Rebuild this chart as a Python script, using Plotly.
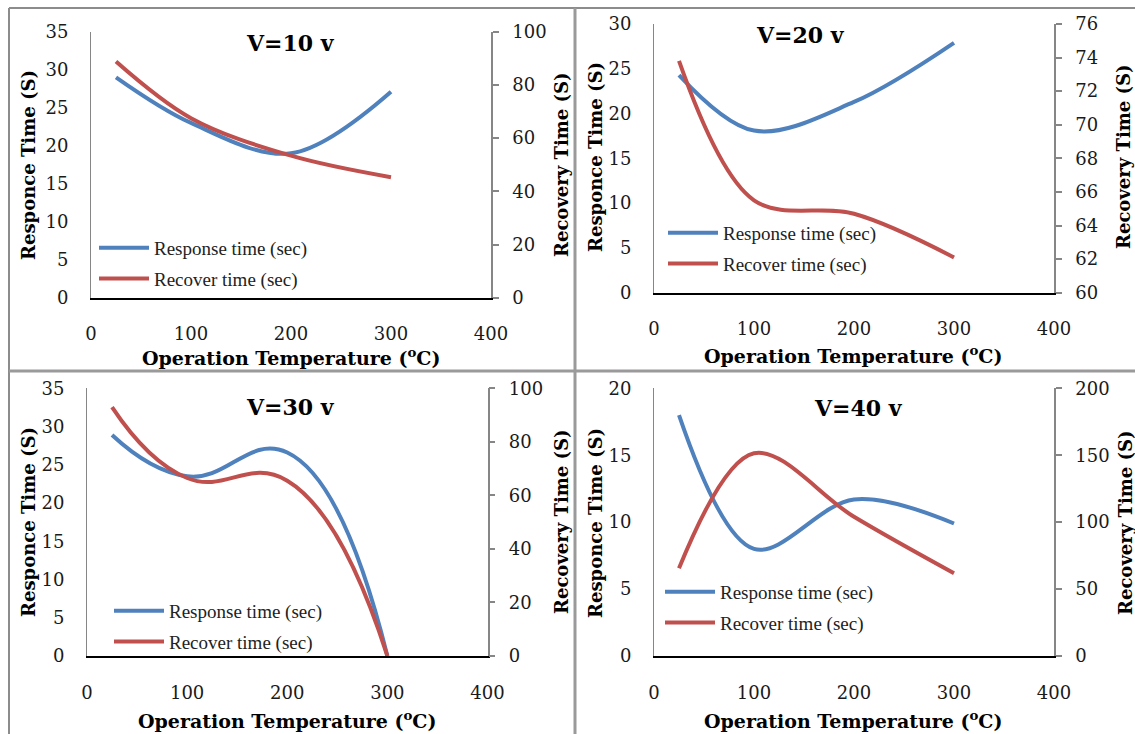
import plotly.graph_objects as go

W, H = 1135, 734

# ---------------- data ----------------
temps = [25, 100, 200, 300]

resp_10 = [29.0, 23.0, 19.0, 27.1]
recov_10 = [88.8, 67.5, 53.4, 45.3]

resp_20 = [24.3, 18.1, 21.3, 27.9]
recov_20 = [73.8, 65.5, 64.7, 62.1]

resp_30 = [28.9, 23.5, 26.6, 0.0]
recov_30 = [93.0, 66.5, 65.5, 0.0]

resp_40 = [18.0, 8.0, 11.7, 9.9]
recov_40 = [65.5, 151.5, 104.0, 61.8]

titles = ["V=10 v", "V=20 v", "V=30 v", "V=40 v"]
left_ranges = [[0, 35], [0, 30], [0, 35], [0, 20]]
left_dticks = [5, 5, 5, 5]
right_ranges = [[0, 100], [60, 76], [0, 100], [0, 200]]
right_dticks = [20, 2, 20, 50]
x_ticks = [0, 100, 200, 300, 400]
smooth = [1.0, 1.0, 1.3, 1.0]

resp_name = "Response time (sec)"
recov_name = "Recover time (sec)"
x_title = "Operation Temperature (<sup>o</sup>C)"
yl_title = "Responce Time (S)"
yr_title = "Recovery Time (S)"

BLUE = "#4F81BD"
RED = "#C0504D"

def px(x):
    return x / W

def py(y):
    return 1 - y / H

areas = [
    (91, 491, 31.7, 297.7),
    (654, 1054, 24, 292.7),
    (87, 487.5, 388.3, 656),
    (654, 1054, 388.3, 656),
]
legend_pos = [(94, 229), (663, 214), (109, 592), (660, 573)]
title_pos = [(290, 43), (800, 35), (290, 407), (858, 408)]
xtitle_pos = [(291, 357), (853, 355), (287, 720), (853, 720)]
yl_pos = [(28, 165), (595, 157), (28, 522), (595, 523)]
yr_pos = [(561, 165), (1123, 157), (561, 522), (1125, 523)]

resp_all = [resp_10, resp_20, resp_30, resp_40]
recov_all = [recov_10, recov_20, recov_30, recov_40]

TICK_FONT = dict(family="DejaVu Serif", size=18, color="#1a1a1a")
YT_FONT = dict(family="DejaVu Serif", size=18, color="#000000")
XT_FONT = dict(family="DejaVu Serif", size=19, color="#000000")

fig = go.Figure()
layout = dict(
    width=W, height=H,
    margin=dict(l=0, r=0, t=0, b=0, pad=0, autoexpand=False),
    paper_bgcolor="white", plot_bgcolor="rgba(0,0,0,0)",
    showlegend=True,
)
annotations = []

for i in range(4):
    n = i + 1
    xa = "x" if n == 1 else f"x{n}"
    yl = "y" if n == 1 else f"y{n}"
    yr = f"y{n + 4}"
    leg = "legend" if n == 1 else f"legend{n}"
    x0, x1, yt, yb = areas[i]

    fig.add_trace(go.Scatter(
        x=temps, y=resp_all[i], name=resp_name, mode="lines",
        line=dict(color=BLUE, width=4, shape="spline", smoothing=smooth[i]),
        xaxis=xa, yaxis=yl, legend=leg, legendgroup=f"r{n}",
        cliponaxis=False,
    ))
    fig.add_trace(go.Scatter(
        x=temps, y=recov_all[i], name=recov_name, mode="lines",
        line=dict(color=RED, width=4, shape="spline", smoothing=smooth[i]),
        xaxis=xa, yaxis=yr, legend=leg, legendgroup=f"c{n}",
        cliponaxis=False,
    ))

    layout[f"xaxis{'' if n == 1 else n}"] = dict(
        domain=[px(x0), px(x1)], anchor=yl, range=[0, 400],
        tickvals=x_ticks, showgrid=False, zeroline=False, automargin=False,
        showline=True, linecolor="#000000", linewidth=2,
        ticks="", ticklabelstandoff=19, tickfont=TICK_FONT,
    )
    layout[f"yaxis{'' if n == 1 else n}"] = dict(
        domain=[py(yb), py(yt)], anchor=xa, range=left_ranges[i],
        dtick=left_dticks[i], showgrid=False, zeroline=False, automargin=False,
        showline=True, linecolor="#868686", linewidth=1,
        ticks="", ticklabelstandoff=18, tickfont=TICK_FONT,
    )
    layout[f"yaxis{n + 4}"] = dict(
        overlaying=yl, anchor=xa, side="right", range=right_ranges[i],
        dtick=right_dticks[i], showgrid=False, zeroline=False, automargin=False,
        showline=True, linecolor="#868686", linewidth=1.5,
        ticks="outside", ticklen=6, tickcolor="#868686", tickwidth=1.5,
        ticklabelstandoff=10, tickfont=TICK_FONT,
    )
    lx, ly = legend_pos[i]
    layout[leg] = dict(
        x=px(lx), y=py(ly), xanchor="left", yanchor="top",
        bgcolor="rgba(0,0,0,0)", borderwidth=0,
        font=dict(family="Liberation Serif", size=19, color="#222222"),
        tracegroupgap=3, itemwidth=50, traceorder="grouped",
    )

    tx, ty = title_pos[i]
    annotations.append(dict(
        text=f"<b>{titles[i]}</b>", x=px(tx), y=py(ty), xref="paper", yref="paper",
        showarrow=False, xanchor="center", yanchor="middle",
        font=dict(family="DejaVu Serif", size=22, color="#000000"),
    ))
    ax_, ay_ = xtitle_pos[i]
    annotations.append(dict(
        text=f"<b>{x_title}</b>", x=px(ax_), y=py(ay_), xref="paper", yref="paper",
        showarrow=False, xanchor="center", yanchor="middle", font=XT_FONT,
    ))
    lx_, ly_ = yl_pos[i]
    annotations.append(dict(
        text=f"<b>{yl_title}</b>", x=px(lx_), y=py(ly_), xref="paper", yref="paper",
        showarrow=False, xanchor="center", yanchor="middle", textangle=-90,
        font=YT_FONT,
    ))
    rx_, ry_ = yr_pos[i]
    annotations.append(dict(
        text=f"<b>{yr_title}</b>", x=px(rx_), y=py(ry_), xref="paper", yref="paper",
        showarrow=False, xanchor="center", yanchor="middle", textangle=-90,
        font=YT_FONT,
    ))

layout["annotations"] = annotations

FRAME = dict(color="#8c8c8c", width=2)
DIV = dict(color="#9a9a9a", width=3)
shapes = [
    dict(type="line", xref="paper", yref="paper", x0=px(9), x1=px(9), y0=py(8), y1=py(734), line=FRAME),
    dict(type="line", xref="paper", yref="paper", x0=px(9), x1=px(1135), y0=py(8), y1=py(8), line=FRAME),
    dict(type="line", xref="paper", yref="paper", x0=px(575), x1=px(575), y0=py(8), y1=py(734), line=DIV),
    dict(type="line", xref="paper", yref="paper", x0=px(9), x1=px(1135), y0=py(371), y1=py(371), line=DIV),
]
layout["shapes"] = shapes

fig.update_layout(**layout)
fig.write_html("out.html")
